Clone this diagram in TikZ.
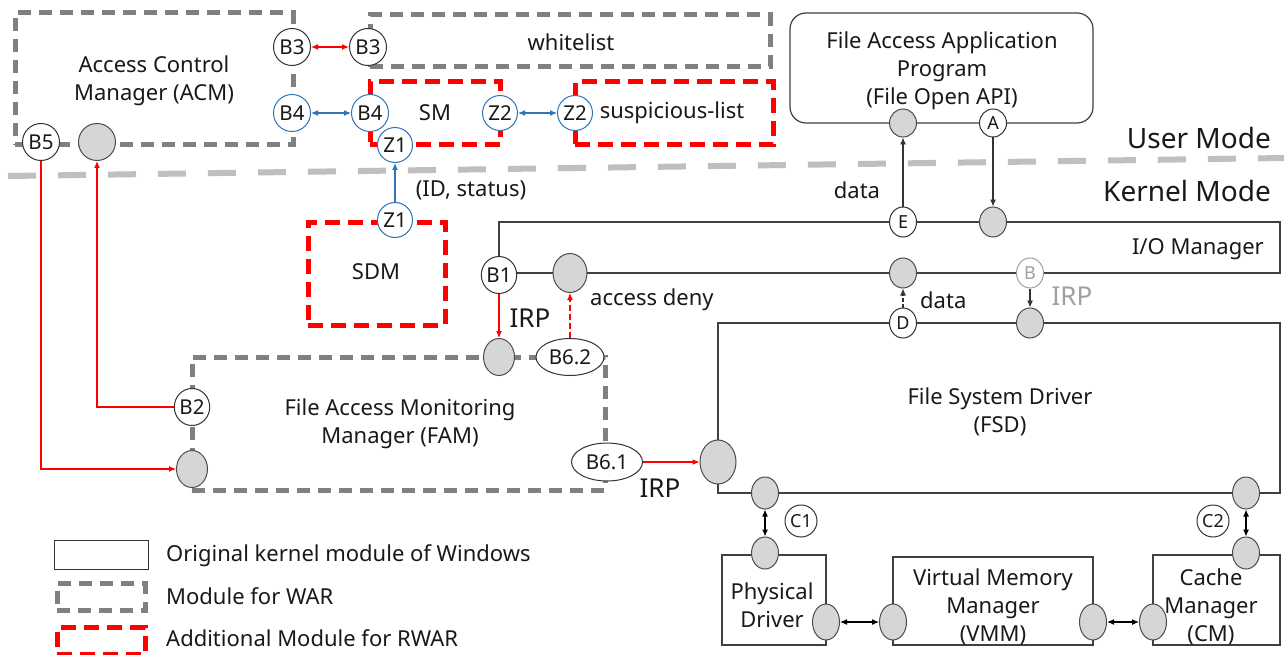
\documentclass[tikz,border=0pt]{standalone}
\usepackage{fontspec}
\setmainfont{Noto Sans}
\usetikzlibrary{arrows.meta,shapes.geometric}
\definecolor{wgray}{RGB}{127,127,127}
\definecolor{rred}{RGB}{255,0,0}
\definecolor{bblue}{RGB}{46,117,182}
\definecolor{dotgray}{RGB}{214,214,214}
\definecolor{modegray}{RGB}{191,191,191}
\definecolor{lgray}{RGB}{160,160,160}
\begin{document}
\begin{tikzpicture}[x=1pt,y=-1pt,
  every node/.style={font=\fontsize{22}{28}\selectfont, inner sep=0pt, text=black!90},
  gdash/.style={rectangle, draw=wgray, line width=5pt, dash pattern=on 13pt off 8pt, align=center},
  rdash/.style={rectangle, draw=rred, line width=5pt, dash pattern=on 15pt off 8pt, align=center},
  solidbox/.style={rectangle, draw=black!75, line width=1.2pt, align=center},
  lab/.style={ellipse, draw=black!80, fill=white, line width=1pt, inner sep=0pt, minimum width=37pt, minimum height=37pt, font=\fontsize{20.5}{22}\selectfont},
  blab/.style={lab, draw=bblue},
  slab/.style={lab, minimum width=27pt, minimum height=30pt, font=\fontsize{18}{20}\selectfont},
  gc/.style={ellipse, draw=black!70, fill=dotgray, line width=1pt, inner sep=0pt, minimum width=27pt, minimum height=30pt},
  arr/.style={line width=1.1pt, -{Latex[length=7pt,width=6pt]}},
  darr/.style={line width=1.1pt, {Latex[length=7pt,width=6pt]}-{Latex[length=7pt,width=6pt]}},
  redarr/.style={arr, draw=rred, color=rred},
  txt/.style={align=center}
]
\useasboundingbox (0,0) rectangle (1284,655);
\fill[white] (0,0) rectangle (1284,655);

% mode separator
\draw[modegray, line width=6pt, dash pattern=on 28pt off 22pt] (8,176) -- (1284,158);
\node[anchor=east, font=\fontsize{28}{30}\selectfont] (um) at (1271,138) {User Mode};
\node[anchor=east, font=\fontsize{28}{30}\selectfont] (km) at (1271,191) {Kernel Mode};

% modules
\node[gdash, minimum width=278pt, minimum height=132pt] (acm) at (154,79) {};
\node[txt] (acmt) at (154,81) {Access Control\\Manager (ACM)};
\node[gdash, minimum width=400pt, minimum height=52pt] (wl) at (570,41) {};
\node (wlt) at (571,42) {whitelist};
\node[rdash, minimum width=130pt, minimum height=63pt] (sm) at (435,113.5) {};
\node (smt) at (435,113) {SM};
\node[rdash, minimum width=198pt, minimum height=63pt] (sl) at (674,113.5) {};
\node (slt) at (672,113) {suspicious-list};
\node[rdash, minimum width=137pt, minimum height=103pt] (sdm) at (376.5,273.5) {};
\node (sdmt) at (376,272) {SDM};
\node[gdash, minimum width=413pt, minimum height=133pt] (fam) at (398.5,423.5) {};
\node[txt] (famt) at (400,424) {File Access Monitoring\\Manager (FAM)};

\node[solidbox, rounded corners=16pt, minimum width=303pt, minimum height=110pt] (app) at (941.5,68) {};
\node[txt] (appt) at (942,71) {File Access Application\\Program\\(File Open API)};
\node[solidbox, minimum width=781pt, minimum height=51pt] (io) at (889.5,247.5) {};
\node[anchor=east] (iot) at (1264,249) {I/O Manager};
\node[solidbox, minimum width=562pt, minimum height=170pt] (fsd) at (999,408) {};
\node[txt] (fsdt) at (1000,412) {File System Driver\\(FSD)};
\node[solidbox, minimum width=104pt, minimum height=90pt] (pd) at (774,600) {};
\node[txt] (pdt) at (772,605) {Physical\\Driver};
\node[solidbox, minimum width=200pt, minimum height=88pt] (vmm) at (993,601) {};
\node[txt] (vmmt) at (993,607) {Virtual Memory\\Manager\\(VMM)};
\node[solidbox, minimum width=127pt, minimum height=90pt] (cm) at (1216.5,600) {};
\node[txt] (cmt) at (1211,607) {Cache\\Manager\\(CM)};

% circles top
\node[lab] (b3a) at (292,47) {B3};
\node[lab] (b3b) at (368,47) {B3};
\node[blab] (b4a) at (292,113) {B4};
\node[blab] (b4b) at (370,113) {B4};
\node[blab, minimum width=35pt, minimum height=35pt] (z1a) at (395,145) {Z1};
\node[blab, minimum width=35pt, minimum height=35pt] (z1b) at (395,220) {Z1};
\node[blab, minimum width=35pt, minimum height=35pt] (z2a) at (500,113) {Z2};
\node[blab, minimum width=35pt, minimum height=35pt] (z2b) at (575,113) {Z2};
\node[lab] (b5) at (41,142) {B5};
\node[gc, minimum width=37pt, minimum height=37pt] (gacm) at (97,142) {};

\node[gc, minimum height=28pt, minimum width=27pt] (gapp) at (903,123) {};
\node[slab, minimum height=28pt, minimum width=27pt] (a) at (993,123) {A};
\node[slab] (e) at (903,222) {E};
\node[gc] (gio1) at (993,222) {};
\node[lab, minimum width=31pt, minimum height=37pt] (b1) at (499,275) {B1};
\node[gc, minimum width=34pt, minimum height=39pt] (gio2) at (570,273) {};
\node[gc] (gio3) at (903,273) {};
\node[slab, draw=lgray, text=lgray] (bb) at (1030,273) {B};
\node[slab] (d) at (903,323) {D};
\node[gc] (gfsd1) at (1030,323) {};
\node[gc, minimum width=36pt, minimum height=44pt] (gfsd2) at (718,462) {};
\node[gc, minimum height=32pt] (gfsd3) at (765,493) {};
\node[gc, minimum height=32pt] (gfsd4) at (1246,493) {};
\node[lab, minimum width=32pt, minimum height=32pt, font=\fontsize{18}{20}\selectfont] (c1) at (801,521) {C1};
\node[lab, minimum width=32pt, minimum height=32pt, font=\fontsize{18}{20}\selectfont] (c2) at (1213,521) {C2};
\node[gc, minimum height=32pt] (gpd1) at (765,553) {};
\node[gc, minimum height=36pt] (gpd2) at (826,622) {};
\node[gc, minimum height=36pt] (gvmm1) at (893,622) {};
\node[gc, minimum height=36pt] (gvmm2) at (1093,622) {};
\node[gc, minimum height=36pt] (gcm1) at (1153,622) {};
\node[gc, minimum height=32pt] (gcm2) at (1246,553) {};

\node[gc, minimum width=31pt, minimum height=37pt] (gfam1) at (499,357) {};
\node[lab, minimum width=68pt, minimum height=37pt] (b62) at (570,357) {B6.2};
\node[lab, minimum width=31pt, minimum height=37pt] (b2) at (192,407) {B2};
\node[gc, minimum width=31pt, minimum height=37pt] (gfam2) at (192,469) {};
\node[lab, minimum width=71pt, minimum height=38pt] (b61) at (607,462) {B6.1};

% connectors
\draw[darr, rred] (b3a) -- (b3b);
\draw[darr, bblue] (b4a) -- (b4b);
\draw[darr, bblue] (z2a) -- (z2b);
\draw[arr, bblue] (z1b) -- (z1a);
\node (idst) at (471,190) {(ID, status)};

\draw[arr, black!80] (e) -- (gapp);
\node (data1) at (857,190) {data};
\draw[arr, black!80] (a) -- (gio1);
\draw[arr, black!80, dash pattern=on 4pt off 2pt] (d) -- (gio3);
\node[anchor=west] (data2) at (920,300) {data};
\draw[arr, black!80] (bb) -- (gfsd1);
\node[text=lgray, font=\fontsize{26}{28}\selectfont] (irpg) at (1072,296) {IRP};

\draw[redarr] (b1) -- (gfam1);
\node[font=\fontsize{26}{28}\selectfont] (irp1) at (530,318) {IRP};
\draw[redarr, dash pattern=on 6pt off 3pt] (b62) -- (gio2);
\node[anchor=west] (deny) at (590,300) {access deny};
\draw[redarr] (b61) -- (gfsd2);
\node[font=\fontsize{26}{28}\selectfont] (irp2) at (660,488) {IRP};

\draw[redarr] (b5) |- (gfam2);
\draw[redarr] (b2) -| (gacm);

\draw[darr, black] (gfsd3) -- (gpd1);
\draw[darr, black] (gfsd4) -- (gcm2);
\draw[darr, black] (gpd2) -- (gvmm1);
\draw[darr, black] (gvmm2) -- (gcm1);

% legend
\node[rectangle, draw=black!80, line width=1pt, minimum width=94pt, minimum height=29pt] (lg1) at (101,555) {};
\node[anchor=west] (lt1) at (166,556) {Original kernel module of Windows};
\node[gdash, minimum width=88pt, minimum height=27pt] (lg2) at (101,597) {};
\node[anchor=west] (lt2) at (166,596) {Module for WAR};
\node[rdash, minimum width=88pt, minimum height=27pt] (lg3) at (101,641) {};
\node[anchor=west] (lt3) at (166,638) {Additional Module for RWAR};
\end{tikzpicture}
\end{document}
